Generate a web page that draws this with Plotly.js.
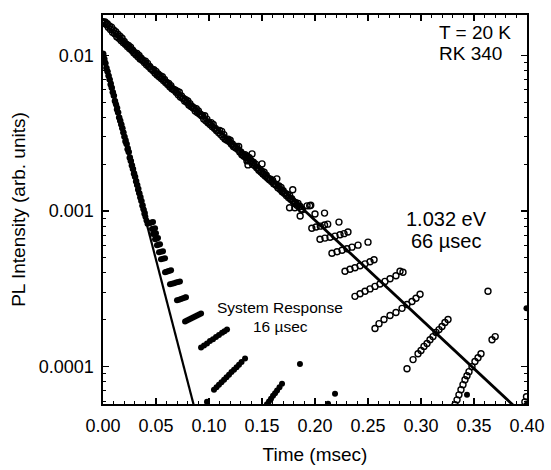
<!DOCTYPE html>
<html>
<head>
<meta charset="utf-8">
<script src="https://cdn.plot.ly/plotly-3.0.1.min.js"></script>
<style>html,body{margin:0;padding:0;background:#fff;}</style>
</head>
<body>
<div id="chart" style="width:551px;height:470px;"></div>
<script>
// ---- PL decay (1.032 eV), open circles ----
const plTime = [
 0.000,0.002,0.004,0.006,0.008,0.010,0.012,0.014,0.016,0.018,
 0.020,0.022,0.024,0.026,0.028,0.030,0.032,0.034,0.036,0.038,
 0.040,0.042,0.044,0.046,0.048,0.050,0.052,0.054,0.056,0.058,
 0.060,0.062,0.064,0.066,0.068,0.070,0.072,0.074,0.076,0.078,
 0.080,0.082,0.084,0.086,0.088,0.090,0.092,0.094,0.096,0.098,
 0.100,0.102,0.104,0.106,0.108,0.110,0.112,0.114,0.116,0.118,
 0.120,0.122,0.124,0.126,0.128,0.130,0.132,0.134,0.136,0.138,
 0.140,0.142,0.144,0.146,0.148,0.150,0.152,0.154,0.156,0.158,
 0.160,0.162,0.164,0.166,0.168,0.170,0.172,0.174,0.176,0.178,
 0.180,0.182,0.184,0.186,0.188,
 0.001,0.003,0.005,0.007,0.009,0.011,0.013,0.015,0.017,0.019,
 0.021,0.023,0.025,0.027,0.029,0.031,0.033,0.035,0.037,0.039,
 0.041,0.043,0.045,0.047,0.049,0.051,0.053,0.055,0.057,0.059,
 0.061,0.063,0.065,0.067,0.069,0.071,0.073,0.075,0.077,0.079,
 0.081,0.083,0.085,0.087,0.089,0.091,0.093,0.095,0.097,0.099,
 0.101,0.103,0.105,0.107,0.109,0.111,0.113,0.115,0.117,0.119,
 0.121,0.123,0.125,0.127,0.129,0.131,0.133,0.135,0.137,0.139,
 0.141,0.143,0.145,0.147,0.149,0.151,0.153,0.155,0.157,0.159,
 0.161,0.163,0.165,0.167,0.169,0.171,0.173,0.175,0.177,0.179,
 0.181,0.183,0.185,0.187,
 0.1358,0.1368,0.1406,0.150,0.151,0.164,0.169,0.179,0.176,0.181,0.186,0.195,0.209,
 0.1925,0.196,
 0.197,0.201,0.205,0.209,0.212,0.200,0.2226,
 0.2047,0.2094,0.2142,0.2189,0.2236,0.2274,0.2311,
 0.216,0.2208,0.2255,0.2302,0.2349,0.2406,0.250,
 0.2283,0.233,0.2377,0.2425,0.2472,0.2519,0.2557,
 0.2377,0.2425,0.2472,0.2519,0.2566,0.2613,0.266,0.2708,0.2764,0.283,0.2802,
 0.2566,0.2604,0.2651,0.2708,0.2764,0.2821,0.2868,0.2915,0.2953,0.2991,
 0.2868,0.2925,0.2972,0.300,0.3028,0.3057,0.3085,0.3113,0.3142,0.317,0.3198,0.3226,0.3255,
 0.3321,0.334,0.3358,0.3377,0.3396,0.3415,0.3434,0.3453,0.3481,0.3509,0.3538,0.3566,
 0.3632,0.367,0.370,0.398,0.3995
];
const plIntensity = [
 0.0165,0.0164,0.0160,0.0155,0.0152,0.0146,0.0142,0.0137,0.0133,0.0129,
 0.0123,0.0118,0.0116,0.0113,0.0108,0.0104,0.0103,0.0100,0.0096,0.0093,
 0.0092,0.0089,0.0085,0.0082,0.0081,0.0079,0.0076,0.0074,0.0073,0.0070,
 0.0067,0.0066,0.0064,0.0061,0.0060,0.0059,0.0058,0.0055,0.0053,0.0052,
 0.0051,0.0049,0.0047,0.0046,0.00455,0.0044,0.0042,0.0041,0.0041,0.0039,
 0.0037,0.0037,0.0036,0.0034,0.0033,0.0033,0.00325,0.0031,0.0029,0.0029,
 0.00285,0.0027,0.0026,0.0026,0.0026,0.0024,0.0023,0.0023,0.00225,0.0022,
 0.0021,0.00205,0.0020,0.0019,0.00185,0.0018,0.00178,0.0017,0.00162,0.0016,
 0.00158,0.0015,0.00146,0.00145,0.00142,0.00135,0.00130,0.00128,0.00126,0.0012,
 0.00115,0.00113,0.00112,0.00107,0.00102,
 0.0161,0.0158,0.0152,0.0147,0.0141,0.0138,0.0132,0.0129,0.0125,0.0121,
 0.0118,0.0114,0.0111,0.0108,0.0104,0.0101,0.0098,0.0095,0.0093,0.0090,
 0.0087,0.0085,0.0082,0.0080,0.0077,0.0075,0.0073,0.0071,0.0069,0.0067,
 0.0065,0.0063,0.0061,0.0060,0.0058,0.0056,0.0054,0.0053,0.0051,0.0050,
 0.0048,0.0047,0.0046,0.0044,0.0043,0.0042,0.0041,0.0039,0.0038,0.0037,
 0.0036,0.0035,0.0034,0.0033,0.0032,0.0031,0.0030,0.0029,0.00285,0.0028,
 0.0027,0.0026,0.00255,0.0025,0.0024,0.0023,0.00225,0.0022,0.00212,0.0021,
 0.0020,0.00196,0.0019,0.00183,0.00178,0.00174,0.00168,0.00164,0.00159,0.00155,
 0.0015,0.00147,0.00141,0.00138,0.00133,0.00130,0.00126,0.00122,0.00119,0.00116,
 0.00112,0.00109,0.00106,0.00103,
 0.0021,0.00198,0.00233,0.00201,0.00173,0.00161,0.00135,0.00137,0.00105,0.00105,0.00093,0.00108,0.00097,
 0.00108,0.00109,
 0.000776,0.000789,0.0008,0.000813,0.000824,0.000957,0.000849,
 0.000659,0.00067,0.000679,0.00069,0.000705,0.000716,0.000733,
 0.000536,0.000548,0.00056,0.000573,0.000586,0.000604,0.000631,
 0.00041,0.000423,0.000432,0.000445,0.000458,0.000472,0.000486,
 0.000283,0.000294,0.000305,0.000316,0.000328,0.00034,0.000353,0.000367,0.000384,0.000404,0.00041,
 0.000176,0.000189,0.000201,0.000213,0.000223,0.000237,0.000251,0.000262,0.000275,0.000292,
 0.000097,0.000111,0.000121,0.000127,0.000135,0.000141,0.000149,0.000156,0.000166,0.000173,0.000181,0.000192,0.000201,
 0.0000569,0.0000612,0.0000659,0.0000711,0.0000766,0.0000824,0.0000875,0.0000929,0.0001,0.000108,0.000114,0.000121,
 0.000305,0.000149,0.000156,0.0000594,0.000064
];

// ---- System response, filled dots ----
const srTime = [
 0.000,0.001,0.002,0.003,0.004,0.005,0.006,0.007,0.008,0.009,
 0.010,0.011,0.012,0.013,0.014,0.015,0.016,0.017,0.018,0.019,
 0.020,0.021,0.022,0.023,0.024,0.025,0.026,0.027,0.028,0.029,
 0.030,0.031,0.032,0.033,0.034,0.035,0.036,0.037,0.038,0.039,
 0.040,0.041,0.042,
 0.0005,0.0015,0.0025,0.0035,0.0045,0.0055,0.0065,0.0075,0.0085,0.0095,
 0.0105,0.0115,0.0125,0.0135,0.0145,0.0155,0.0165,0.0175,0.0185,0.0195,
 0.0205,0.0215,0.0225,0.0235,0.0245,0.0255,0.0265,0.0275,0.0285,0.0295,
 0.0305,0.0315,0.0325,0.0335,0.0345,0.0355,0.0365,0.0375,0.0385,0.0395,
 0.0443,0.0457,0.0472, 0.0462,0.0476,0.0491, 0.0472,0.0486,0.0500, 0.0491,0.0505,0.0519,
 0.0509,0.0523,0.0538, 0.0528,0.0547,0.0566, 0.0547,0.0566,0.0585,
 0.0585,0.0599,0.0613,0.0628,0.0642,
 0.0632,0.0651,0.0670,0.0689,0.0708,0.0726,
 0.0698,0.0717,0.0736,0.0755,0.0774,0.0783,
 0.0774,0.0792,0.0811,0.0830,0.0849,0.0868,0.0887,0.0906,0.0925,
 0.0925,0.0953,0.0981,0.1009,0.1038,0.1066,0.1094,0.1123,0.1146,0.1170,
 0.1047,0.1071,0.1094,0.1118,0.1142,0.1165,0.1189,0.1212,0.1236,0.1260,0.1283,0.1307,0.1340,
 0.1528,0.1547,0.1566,0.1585,0.1604,0.1623,0.1642,0.1665,0.1689,
 0.0981,0.1858,0.2189,0.2123,0.3434,0.3995,0.3995
];
const srIntensity = [
 0.0103,0.0096,0.0090,0.0083,0.0079,0.0074,0.0070,0.0065,0.0062,0.0058,
 0.0055,0.0051,0.0049,0.0045,0.0043,0.0040,0.0038,0.0036,0.0034,0.0032,
 0.0030,0.0028,0.0027,0.0025,0.0024,0.0022,0.0021,0.00196,0.00186,0.00174,
 0.00166,0.00155,0.00147,0.00137,0.00130,0.00122,0.00116,0.00108,0.00103,0.00096,
 0.00092,0.00087,0.00083,
 0.0102,0.0095,0.0089,0.0083,0.0079,0.0074,0.0070,0.0066,0.0062,0.0058,
 0.0055,0.0051,0.0048,0.0046,0.0043,0.0040,0.0038,0.0036,0.0034,0.0032,
 0.0030,0.00285,0.0027,0.00253,0.0024,0.00222,0.0021,0.00197,0.00186,0.00175,
 0.00166,0.00156,0.00147,0.00139,0.0013,0.00123,0.00116,0.00109,0.00102,0.00097,
 0.000838,0.000843,0.000849, 0.000766,0.000771,0.000776, 0.000711,0.000716,0.000721, 0.000659,0.000664,0.00067,
 0.000604,0.000608,0.000612, 0.000543,0.000548,0.000552, 0.00049,0.000494,0.000498,
 0.000404,0.000407,0.00041,0.000413,0.000416,
 0.000338,0.000341,0.000344,0.000347,0.00035,0.000353,
 0.000267,0.000269,0.000272,0.000275,0.000278,0.000279,
 0.000195,0.000198,0.000201,0.000204,0.000207,0.00021,0.000213,0.000216,0.00022,
 0.000133,0.000137,0.000141,0.000146,0.00015,0.000155,0.00016,0.000165,0.000169,0.000173,
 0.0000711,0.0000738,0.0000766,0.0000794,0.0000824,0.0000855,0.0000887,0.0000923,0.0000957,0.0000993,0.000103,0.000107,0.000113,
 0.0000552,0.0000574,0.0000598,0.0000622,0.0000649,0.0000675,0.0000702,0.0000738,0.0000776,
 0.0000594,0.000104,0.000067,0.0000577,0.0000659,0.000237,0.0000569
];

// ---- single-exponential fits (end points) ----
const plFitTime = [0.0, 0.40];
const plFitIntensity = [0.0163, 0.0000467];
const srFitTime = [0.0, 0.09];
const srFitIntensity = [0.0100, 0.0000434];

const FONT = 'Liberation Sans, Arial, Helvetica, sans-serif';

const traces = [
  {x: plTime, y: plIntensity, type: 'scatter', mode: 'markers',
   marker: {symbol: 'circle-open', size: 6, color: '#000', line: {width: 1.4, color: '#000'}},
   showlegend: false},
  {x: srTime, y: srIntensity, type: 'scatter', mode: 'markers',
   marker: {symbol: 'circle', size: 6, color: '#000'},
   showlegend: false},
  {x: plFitTime, y: plFitIntensity, type: 'scatter', mode: 'lines',
   line: {color: '#000', width: 2.8}, showlegend: false},
  {x: srFitTime, y: srFitIntensity, type: 'scatter', mode: 'lines',
   line: {color: '#000', width: 2.2}, showlegend: false}
];

const minorY = [];
[0.00001, 0.0001, 0.001].forEach(d => { for (let k = 2; k <= 9; k++) minorY.push(d * k); });

const layout = {
  width: 551, height: 470,
  margin: {l: 103, r: 24, t: 15, b: 66},
  paper_bgcolor: '#fff', plot_bgcolor: '#fff',
  font: {family: FONT, color: '#000'},
  xaxis: {
    range: [0, 0.40], tick0: 0, dtick: 0.05, tickformat: '.2f',
    ticks: 'inside', ticklen: 6, tickwidth: 1.2, tickcolor: '#000',
    showline: true, linecolor: '#000', linewidth: 1.6, mirror: 'ticks',
    showgrid: false, zeroline: false, ticklabelstandoff: 5,
    minor: {dtick: 0.01, ticks: 'inside', ticklen: 3, tickwidth: 1, tickcolor: '#000'},
    tickfont: {size: 18, family: FONT, color: '#000'},
    title: {text: 'Time (msec)', font: {size: 19, family: FONT, color: '#000'}, standoff: 12}
  },
  yaxis: {
    type: 'log', range: [-4.24, -1.74],
    tickmode: 'array', tickvals: [0.0001, 0.001, 0.01], ticktext: ['0.0001', '0.001', '0.01'],
    ticks: 'inside', ticklen: 6, tickwidth: 1.2, tickcolor: '#000',
    showline: true, linecolor: '#000', linewidth: 1.6, mirror: 'ticks',
    showgrid: false, zeroline: false, ticklabelstandoff: 4,
    minor: {tickmode: 'array', tickvals: minorY, ticks: 'inside', ticklen: 3, tickwidth: 1, tickcolor: '#000'},
    tickfont: {size: 18, family: FONT, color: '#000'},
    title: {text: 'PL Intensity (arb. units)', font: {size: 19, family: FONT, color: '#000'}, standoff: 8}
  },
  annotations: [
    {text: 'T = 20 K', xref: 'paper', yref: 'paper', x: 0.788, y: 0.954, xanchor: 'left', yanchor: 'middle', showarrow: false, font: {size: 19, family: FONT, color: '#000'}},
    {text: 'RK 340', xref: 'paper', yref: 'paper', x: 0.788, y: 0.900, xanchor: 'left', yanchor: 'middle', showarrow: false, font: {size: 19, family: FONT, color: '#000'}},
    {text: '1.032 eV', xref: 'paper', yref: 'paper', x: 0.809, y: 0.476, xanchor: 'center', yanchor: 'middle', showarrow: false, font: {size: 20, family: FONT, color: '#000'}},
    {text: '66 µsec', xref: 'paper', yref: 'paper', x: 0.809, y: 0.419, xanchor: 'center', yanchor: 'middle', showarrow: false, font: {size: 20, family: FONT, color: '#000'}},
    {text: 'System Response', xref: 'paper', yref: 'paper', x: 0.4175, y: 0.247, xanchor: 'center', yanchor: 'middle', showarrow: false, font: {size: 15.5, family: FONT, color: '#000'}},
    {text: '16 µsec', xref: 'paper', yref: 'paper', x: 0.4175, y: 0.198, xanchor: 'center', yanchor: 'middle', showarrow: false, font: {size: 15.5, family: FONT, color: '#000'}}
  ]
};

Plotly.newPlot('chart', traces, layout, {staticPlot: true, displayModeBar: false});
</script>
</body>
</html>
